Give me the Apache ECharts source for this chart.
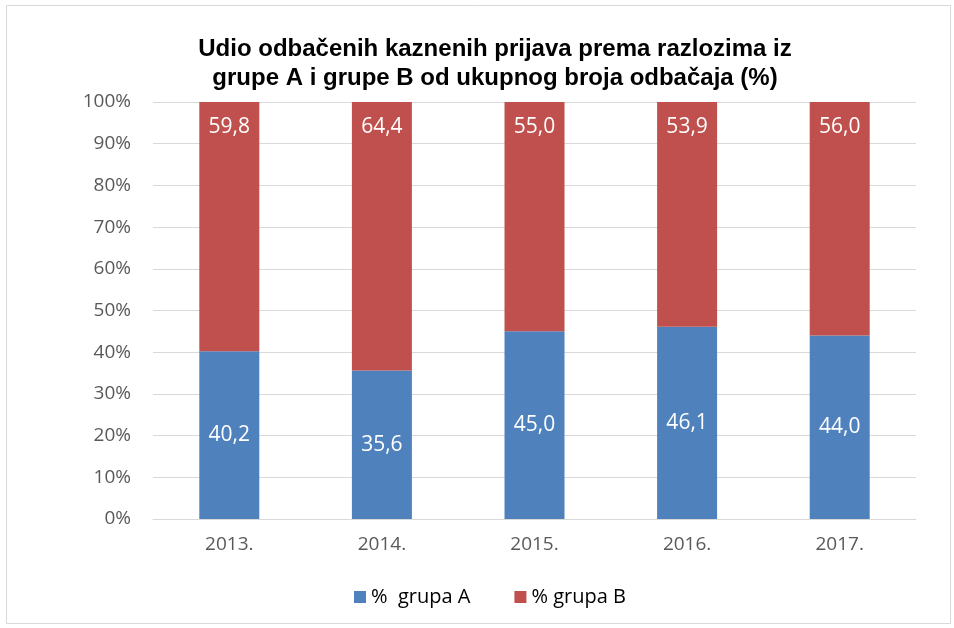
<!DOCTYPE html>
<html>
<head>
<meta charset="utf-8">
<script src="https://cdn.jsdelivr.net/npm/echarts@6/dist/echarts.min.js"></script>
<style>
  html, body { margin: 0; padding: 0; background: #fff; }
  #container { width: 954px; height: 628px; }
</style>
</head>
<body>
<div id="container"></div>
<script>
var years = ["2013.", "2014.", "2015.", "2016.", "2017."];
var grupaA = [40.2, 35.6, 45.0, 46.1, 44.0];
var grupaB = [59.8, 64.4, 55.0, 53.9, 56.0];
var yTicks = { min: 0, max: 100, interval: 10 };

var myChart = echarts.init(document.getElementById("container"));

function fmt(p) {
    return p.value.toFixed(1).replace(".", ",");
}

var option = {
    animation: false,
    textStyle: { fontFamily: "Open Sans" },
    title: {
        text: "Udio odbačenih kaznenih prijava prema razlozima iz\ngrupe A i grupe B od ukupnog broja odbačaja (%)",
        left: 490,
        textAlign: "center",
        top: 30,
        textStyle: {
            fontFamily: "Liberation Sans",
            fontWeight: "bold",
            fontSize: 24,
            lineHeight: 29,
            color: "#000"
        }
    },
    graphic: [{
        type: "rect",
        shape: { x: 6.5, y: 5.5, width: 944, height: 618 },
        style: { fill: "none", stroke: "#d9d9d9", lineWidth: 1 },
        silent: true
    }],
    legend: {
        bottom: 16,
        left: 349,
        itemWidth: 12,
        itemHeight: 12,
        itemGap: 44,
        icon: "rect",
        textStyle: { fontSize: 20, color: "#000", fontFamily: "Open Sans" },
        data: ["%  grupa A", "% grupa B"]
    },
    grid: { left: 153, right: 38, top: 102, bottom: 109 },
    xAxis: {
        type: "category",
        data: years,
        axisLine: { lineStyle: { color: "#d9d9d9" } },
        axisTick: { show: false },
        axisLabel: { color: "#595959", fontSize: 19, margin: 16 }
    },
    yAxis: {
        type: "value",
        min: yTicks.min,
        max: yTicks.max,
        interval: yTicks.interval,
        axisLine: { show: false },
        axisTick: { show: false },
        splitLine: { lineStyle: { color: "#d9d9d9" } },
        axisLabel: { formatter: "{value}%", color: "#595959", fontSize: 19, margin: 22 }
    },
    series: [
        {
            name: "%  grupa A",
            type: "bar",
            stack: "total",
            barWidth: 60,
            itemStyle: { color: "#4f81bd" },
            label: { show: true, position: "inside", color: "#fff", fontSize: 21, formatter: fmt },
            data: grupaA
        },
        {
            name: "% grupa B",
            type: "bar",
            stack: "total",
            barWidth: 60,
            itemStyle: { color: "#c0504d" },
            label: { show: true, position: "insideTop", distance: 15, color: "#fff", fontSize: 21, formatter: fmt },
            data: grupaB
        }
    ]
};

myChart.setOption(option);
</script>
</body>
</html>
